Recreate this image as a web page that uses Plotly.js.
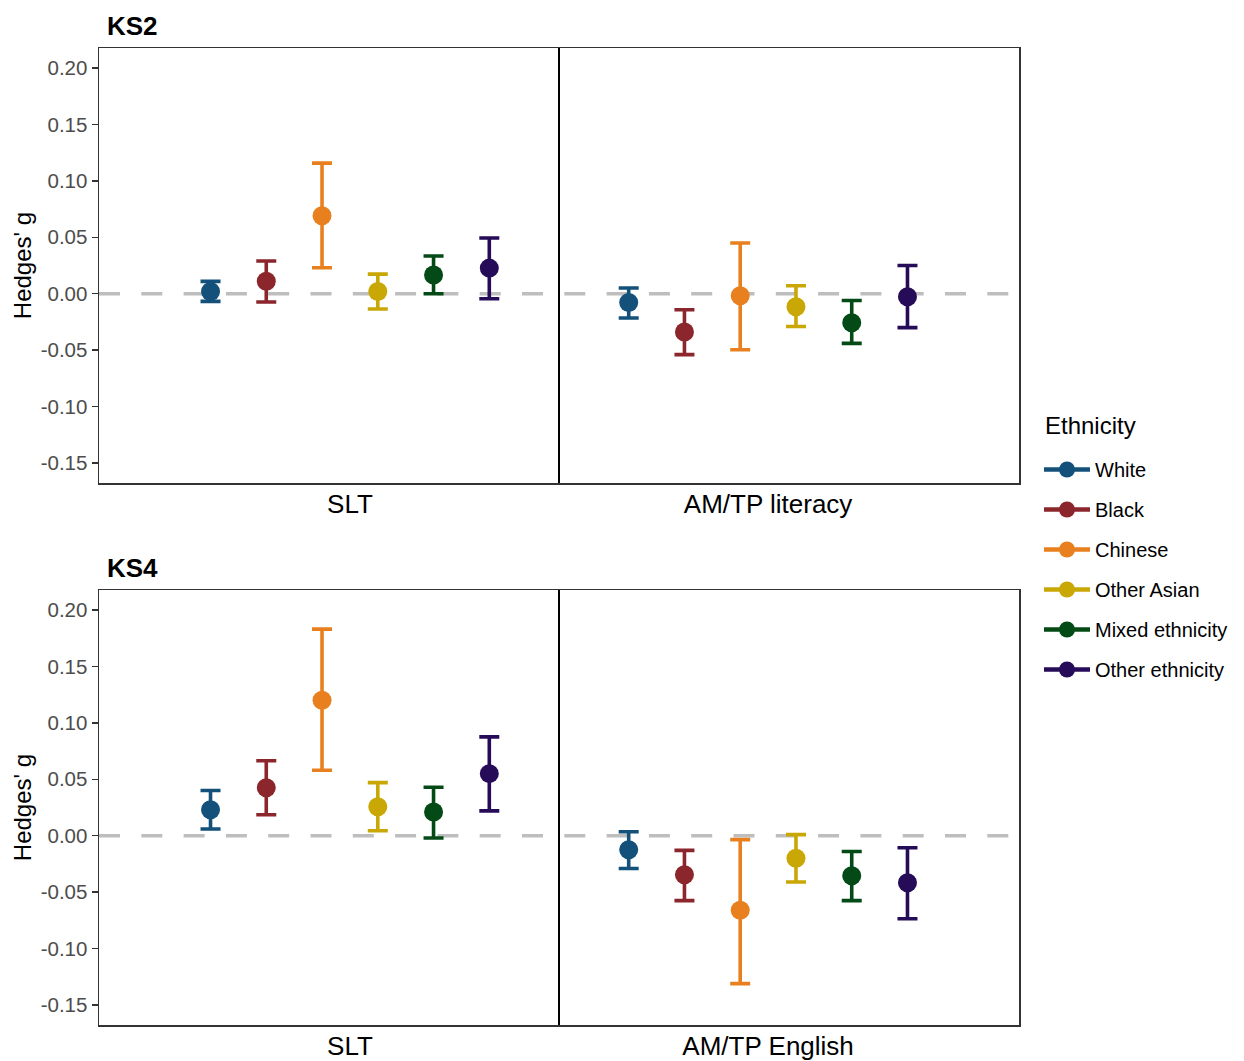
<!DOCTYPE html>
<html>
<head>
<meta charset="utf-8">
<script src="https://cdn.plot.ly/plotly-3.0.1.min.js"></script>
<style>
  html, body { margin: 0; padding: 0; background: #fff; }
  #chart { width: 1244px; height: 1061px; }
</style>
</head>
<body>
<div id="chart"></div>
<script>
// Effect sizes (Hedges' g) with 95% intervals, by ethnicity
const ethnicities = ['White', 'Black', 'Chinese', 'Other Asian', 'Mixed ethnicity', 'Other ethnicity'];
const colours = ['#13507a', '#8a262c', '#e8801f', '#c9a704', '#044a16', '#260c58'];

const ks2Outcomes = ['SLT', 'AM/TP literacy'];
const ks4Outcomes = ['SLT', 'AM/TP English'];

// KS2
const ks2SltEst  = [0.002, 0.011, 0.069, 0.002, 0.0165, 0.0227];
const ks2SltLo   = [-0.0068, -0.0074, 0.023, -0.0135, 0.000, -0.0044];
const ks2SltHi   = [0.0109, 0.029, 0.1157, 0.0174, 0.0334, 0.0493];
const ks2AmtpEst = [-0.0077, -0.0339, -0.0018, -0.0115, -0.0257, -0.0027];
const ks2AmtpLo  = [-0.0215, -0.054, -0.0496, -0.029, -0.044, -0.030];
const ks2AmtpHi  = [0.005, -0.0142, 0.0450, 0.007, -0.006, 0.025];

// KS4
const ks4SltEst  = [0.023, 0.0425, 0.120, 0.0257, 0.021, 0.055];
const ks4SltLo   = [0.006, 0.0186, 0.058, 0.0044, -0.002, 0.022];
const ks4SltHi   = [0.040, 0.0664, 0.183, 0.047, 0.043, 0.0876];
const ks4AmtpEst = [-0.0124, -0.0345, -0.066, -0.020, -0.0354, -0.0416];
const ks4AmtpLo  = [-0.029, -0.0575, -0.131, -0.041, -0.0575, -0.0735];
const ks4AmtpHi  = [0.0035, -0.013, -0.0035, 0.001, -0.014, -0.0106];

const yTickVals = [-0.15, -0.10, -0.05, 0.00, 0.05, 0.10, 0.15, 0.20];
const yTickText = ['-0.15', '-0.10', '-0.05', '0.00', '0.05', '0.10', '0.15', '0.20'];

const FONT = '"Liberation Sans", Arial, sans-serif';
const DODGE = 0.8;

const panels = [
  { title: 'KS2', xa: 'x',  ya: 'y',  outcomes: ks2Outcomes,
    est: [ks2SltEst, ks2AmtpEst], lo: [ks2SltLo, ks2AmtpLo], hi: [ks2SltHi, ks2AmtpHi] },
  { title: 'KS4', xa: 'x2', ya: 'y2', outcomes: ks4Outcomes,
    est: [ks4SltEst, ks4AmtpEst], lo: [ks4SltLo, ks4AmtpLo], hi: [ks4SltHi, ks4AmtpHi] }
];

const traces = [];
const n = ethnicities.length;

panels.forEach(p => {
  ethnicities.forEach((eth, i) => {
    const off = (i - (n - 1) / 2) * DODGE / n;
    const x = p.outcomes.map((_, k) => k + 1 + off);
    const y = p.outcomes.map((_, k) => p.est[k][i]);
    const plus = p.outcomes.map((_, k) => p.hi[k][i] - p.est[k][i]);
    const minus = p.outcomes.map((_, k) => p.est[k][i] - p.lo[k][i]);
    traces.push({
      type: 'scatter', mode: 'markers', xaxis: p.xa, yaxis: p.ya,
      x: x, y: y, name: eth, legendgroup: eth, showlegend: false,
      marker: { color: colours[i], size: 19 },
      error_y: { type: 'data', symmetric: false, array: plus, arrayminus: minus,
                 color: colours[i], thickness: 3.6, width: 10 },
      hoverinfo: 'x+y+name'
    });
  });
});

// legend entries (line + dot glyph)
ethnicities.forEach((eth, i) => {
  traces.push({
    type: 'scatter', mode: 'lines+markers', x: [null], y: [null],
    name: eth, legendgroup: eth, showlegend: true,
    line: { color: colours[i], width: 4.5 },
    marker: { color: colours[i], size: 16 }
  });
});

const plotL = 99, plotR = 224, plotT = 48, plotB = 36, H = 1061;
const plotW = 1244 - plotL - plotR;
const plotH = H - plotT - plotB;
const ks2Domain = [1 - (483 - plotT) / plotH, 1];
const ks4Domain = [0, 1 - (590 - plotT) / plotH];

function xAxis(anchor, outcomes) {
  return {
    anchor: anchor, domain: [0, 1], range: [0.4, 2.6],
    tickvals: outcomes.map((_, k) => k + 1), ticktext: outcomes,
    ticks: '', showgrid: false, zeroline: false,
    showline: true, mirror: true, linecolor: '#333', linewidth: 1.5,
    tickfont: { family: FONT, size: 26, color: '#000' },
    ticklabelstandoff: -3,
    fixedrange: true
  };
}
function yAxis(anchor, domain) {
  return {
    anchor: anchor, domain: domain, range: [-0.1677, 0.2177],
    tickvals: yTickVals, ticktext: yTickText,
    ticks: 'outside', ticklen: 6, tickwidth: 1.5, tickcolor: '#333',
    showgrid: false, zeroline: false,
    showline: true, mirror: true, linecolor: '#333', linewidth: 1.5,
    tickfont: { family: FONT, size: 20.5, color: '#4d4d4d' },
    title: { text: "Hedges' g", font: { family: FONT, size: 24, color: '#000' }, standoff: 2 },
    fixedrange: true
  };
}

const shapes = [];
const annotations = [];
panels.forEach(p => {
  // divider between outcome groups
  shapes.push({
    type: 'line', xref: p.xa, yref: p.ya + ' domain',
    x0: 1.5, x1: 1.5, y0: 0, y1: 1,
    line: { color: '#000', width: 2 }
  });
  // reference line at zero
  shapes.push({
    type: 'line', xref: p.xa + ' domain', yref: p.ya,
    x0: 0, x1: 1, y0: 0, y1: 0, layer: 'below',
    line: { color: '#bebebe', width: 3.5, dash: '21px,21.3px' }
  });
});

const titleY = { KS2: 26, KS4: 568 };
panels.forEach(p => {
  annotations.push({
    text: '<b>' + p.title + '</b>', xref: 'paper', yref: 'paper',
    x: (105 - plotL) / plotW, y: (H - plotB - titleY[p.title]) / plotH,
    xanchor: 'left', yanchor: 'middle', showarrow: false,
    font: { family: FONT, size: 26, color: '#000' }
  });
});

// legend heading
annotations.push({
  text: 'Ethnicity', xref: 'paper', yref: 'paper',
  x: (1044 - plotL) / plotW, y: (H - plotB - 426) / plotH,
  xanchor: 'left', yanchor: 'middle', showarrow: false,
  font: { family: FONT, size: 24, color: '#000' }
});

const layout = {
  width: 1244, height: H,
  margin: { l: plotL, r: plotR, t: plotT, b: plotB },
  paper_bgcolor: '#fff', plot_bgcolor: '#fff',
  font: { family: FONT, color: '#000' },
  xaxis: xAxis('y', ks2Outcomes),
  yaxis: yAxis('x', ks2Domain),
  xaxis2: xAxis('y2', ks4Outcomes),
  yaxis2: yAxis('x2', ks4Domain),
  shapes: shapes,
  annotations: annotations,
  showlegend: true,
  legend: {
    x: (1039 - plotL) / plotW, xanchor: 'left',
    y: (H - plotB - 450) / plotH, yanchor: 'top',
    font: { family: FONT, size: 20, color: '#000' },
    tracegroupgap: 11, itemwidth: 46,
    bgcolor: 'rgba(0,0,0,0)'
  }
};

Plotly.newPlot('chart', traces, layout, { displayModeBar: false, staticPlot: true });
</script>
</body>
</html>
